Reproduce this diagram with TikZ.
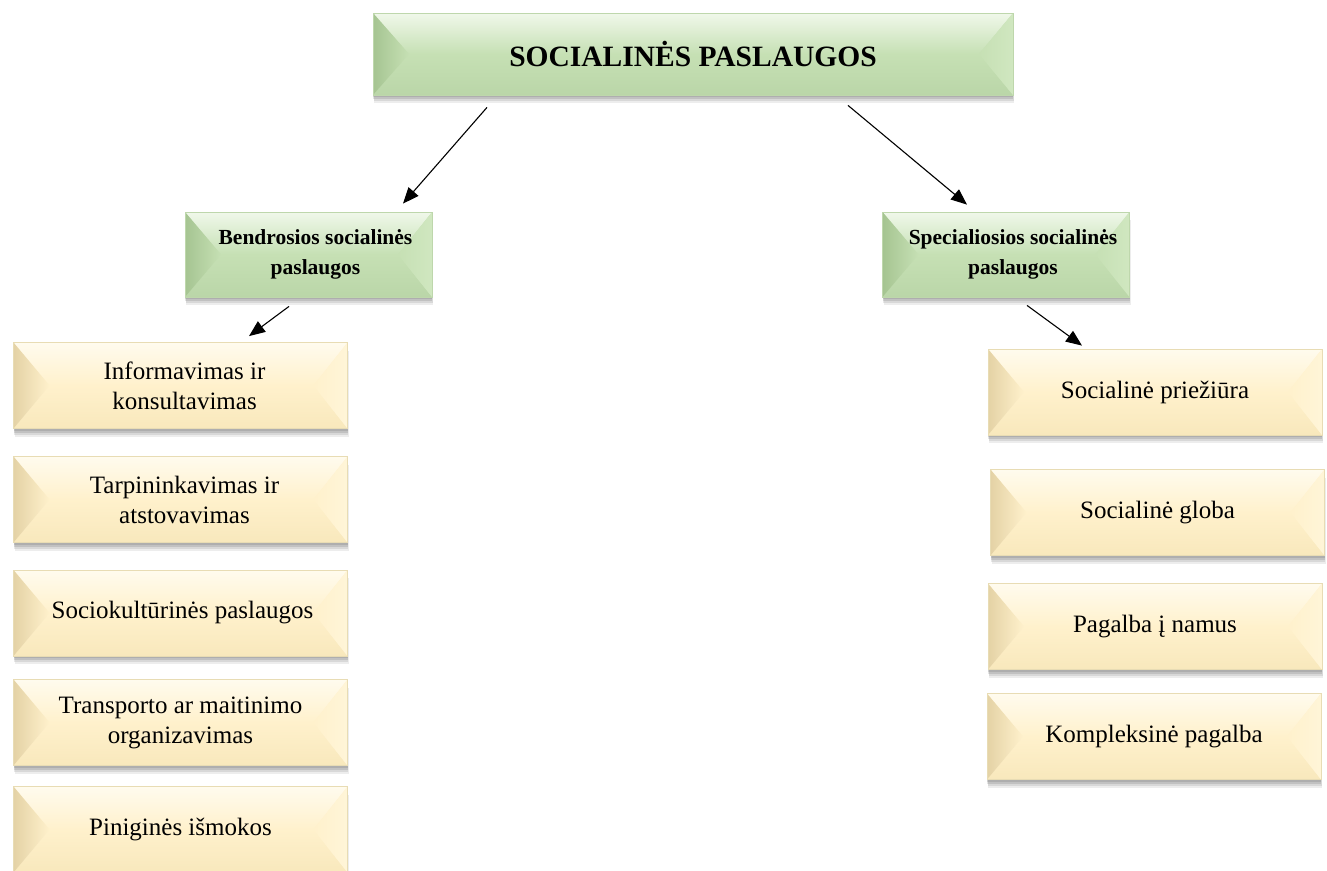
\documentclass[tikz,border=0pt]{standalone}
\usepackage{fontspec}
\setmainfont{Liberation Serif}
\usetikzlibrary{calc,arrows.meta,shadows}

\definecolor{gbase}{RGB}{198,224,180}
\definecolor{glight}{RGB}{240,248,234}
\definecolor{gdark}{RGB}{165,196,145}
\definecolor{gright}{RGB}{208,231,192}
\definecolor{gbottom}{RGB}{186,214,168}
\definecolor{gborder}{RGB}{190,215,172}
\definecolor{ybase}{RGB}{255,241,204}
\definecolor{ylight}{RGB}{255,251,238}
\definecolor{ydark}{RGB}{228,210,165}
\definecolor{yright}{RGB}{255,245,216}
\definecolor{ybottom}{RGB}{248,232,188}
\definecolor{yborder}{RGB}{232,220,180}

\newcommand\mybevelpaint[5]{%
  \coordinate (bNW) at (path picture bounding box.north west);
  \coordinate (bNE) at (path picture bounding box.north east);
  \coordinate (bSW) at (path picture bounding box.south west);
  \coordinate (bSE) at (path picture bounding box.south east);
  \coordinate (bWi) at ($(path picture bounding box.west)+(36pt,0pt)$);
  \coordinate (bEi) at ($(path picture bounding box.east)+(-34pt,0pt)$);
  \shade[top color=#1, bottom color=#2] (bNW) -- (bNE) -- (bEi) -- (bWi) -- cycle;
  \shade[top color=#2, bottom color=#5] (bWi) -- (bEi) -- (bSE) -- (bSW) -- cycle;
  \shade[left color=#3, right color=#2] (bNW) -- (bWi) -- (bSW) -- cycle;
  \shade[left color=#2, right color=#4] (bNE) -- (bEi) -- (bSE) -- cycle;
}

\tikzset{
  x=1pt, y=-1pt,
  boxbase/.style={rectangle, inner sep=0pt, align=center, line width=0.8pt,
    general shadow={fill=black, opacity=.10, shadow yshift=-2pt},
    general shadow={fill=black, opacity=.10, shadow yshift=-4pt},
    general shadow={fill=black, opacity=.09, shadow yshift=-6pt, shadow xshift=0.5pt},
    general shadow={fill=black, opacity=.07, shadow yshift=-8pt, shadow xshift=1pt}},
  gbox/.style={boxbase, fill=gbase, draw=gborder,
    path picture={\mybevelpaint{glight}{gbase}{gdark}{gright}{gbottom}}},
  ybox/.style={boxbase, fill=ybase, draw=yborder,
    path picture={\mybevelpaint{ylight}{ybase}{ydark}{yright}{ybottom}}},
  titlebox/.style={gbox, minimum width=640pt, minimum height=82pt,
    font=\fontsize{29.5pt}{34pt}\selectfont\bfseries},
  midbox/.style={gbox, minimum width=247pt, minimum height=85pt,
    font=\fontsize{21.5pt}{30pt}\selectfont\bfseries},
  leafbox/.style={ybox, minimum width=334pt, minimum height=86pt,
    font=\fontsize{25pt}{30pt}\selectfont},
  arr/.style={-{Triangle[length=16pt,width=13pt]}, line width=1.1pt, black},
}

\begin{document}
\begin{tikzpicture}
\useasboundingbox (0,0) rectangle (1327,870);
\clip (0,0) rectangle (1327,870);

\node[titlebox] (top) at (693,54) {SOCIALINĖS PASLAUGOS};

\node[midbox] (bend) at (308.5,254.5) {\hspace*{14pt}Bendrosios socialinės\\\hspace*{14pt}paslaugos};
\node[midbox] (spec) at (1006,254.5) {\hspace*{14pt}Specialiosios socialinės\\\hspace*{14pt}paslaugos};

\node[leafbox] (l1) at (180.5,385.5) {\hspace*{8pt}Informavimas ir\\\hspace*{8pt}konsultavimas};
\node[leafbox] (l2) at (180.5,499.5) {\hspace*{8pt}Tarpininkavimas ir\\\hspace*{8pt}atstovavimas};
\node[leafbox] (l3) at (180.5,613) {\hspace*{4pt}Sociokultūrinės paslaugos};
\node[leafbox] (l4) at (180.5,722.5) {Transporto ar maitinimo\\organizavimas};
\node[leafbox] (l5) at (180.5,829.5) {Piniginės išmokos};

\node[leafbox] (r1) at (1155,392) {Socialinė priežiūra};
\node[leafbox] (r2) at (1157.5,512.5) {Socialinė globa};
\node[leafbox] (r3) at (1155,626.5) {Pagalba į namus};
\node[leafbox] (r4) at (1154,736.5) {Kompleksinė pagalba};

\draw[arr] ([xshift=-206pt,yshift=-12pt]top.south) -- ([xshift=94.5pt,yshift=8pt]bend.north);
\draw[arr] ([xshift=155pt,yshift=-10pt]top.south) -- ([xshift=-39pt,yshift=7pt]spec.north);
\draw[arr] ([xshift=-19.5pt,yshift=-9pt]bend.south) -- ([xshift=68.5pt,yshift=6pt]l1.north);
\draw[arr] ([xshift=21pt,yshift=-8pt]spec.south) -- ([xshift=-73pt,yshift=3pt]r1.north);
\end{tikzpicture}
\end{document}
